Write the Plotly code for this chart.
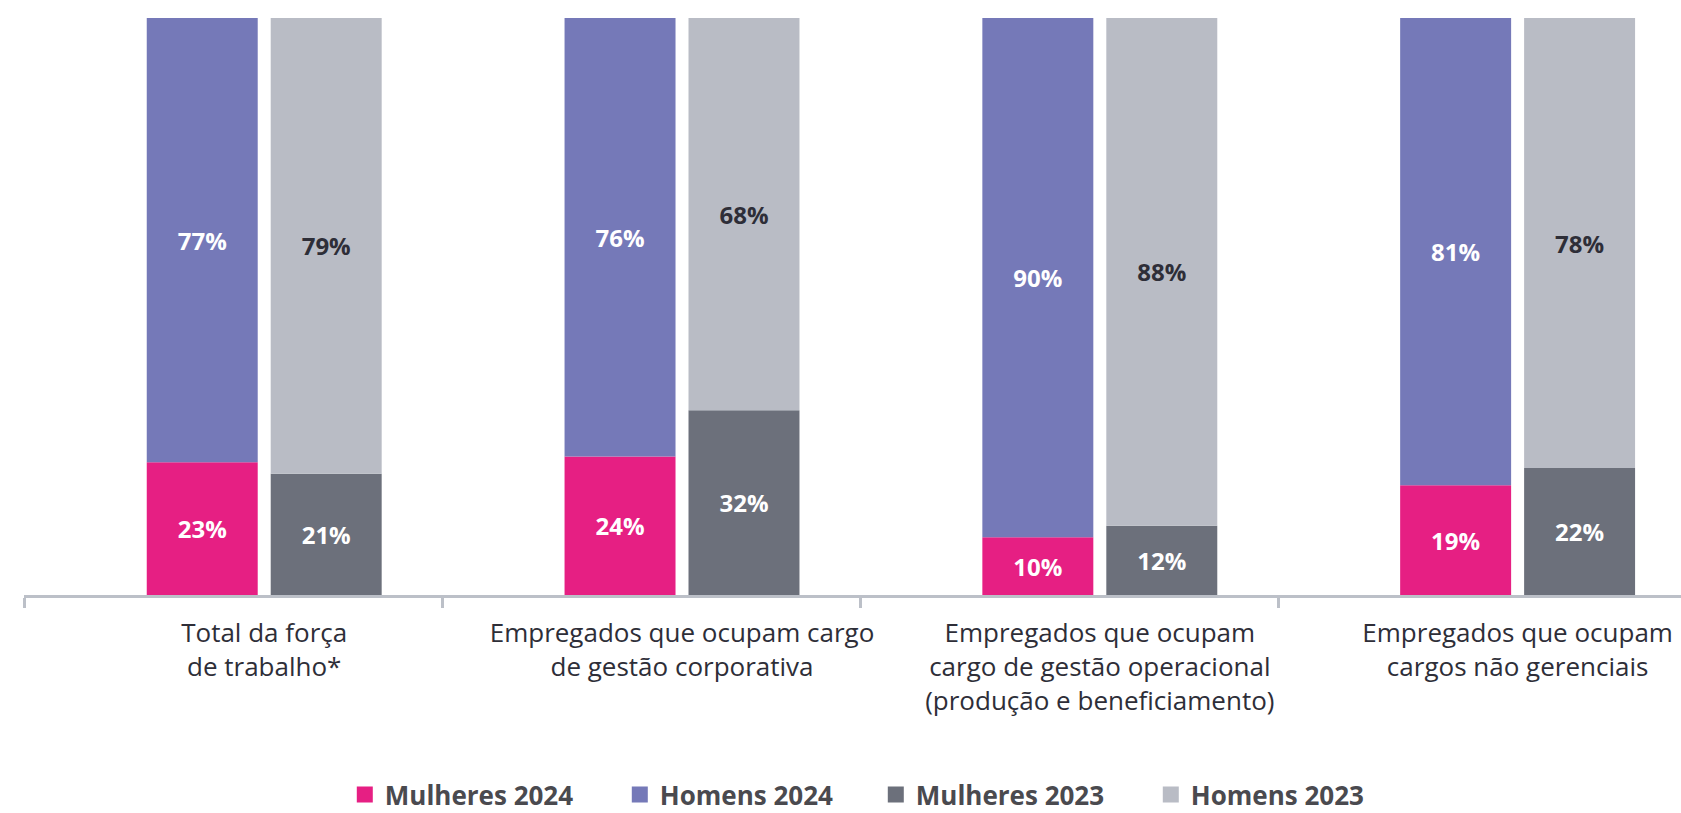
import plotly.graph_objects as go

categories = [
    "Total da força<br>de trabalho*",
    "Empregados que ocupam cargo<br>de gestão corporativa",
    "Empregados que ocupam<br>cargo de gestão operacional<br>(produção e beneficiamento)",
    "Empregados que ocupam<br>cargos não gerenciais",
]
mulheres_2024 = [23, 24, 10, 19]
homens_2024 = [77, 76, 90, 81]
mulheres_2023 = [21, 32, 12, 22]
homens_2023 = [79, 68, 88, 78]

C_PINK = "#E61F83"
C_PURPLE = "#7579B8"
C_DGRAY = "#6C707B"
C_LGRAY = "#B9BCC5"
C_TEXT = "#2E2E38"
C_AXIS = "#BCC0C8"
FONT = "Open Sans"

idx = list(range(len(categories)))
off_2024 = 0.4246
off_2023 = 0.7213
bar_w = 0.2656
x24 = [i + off_2024 for i in idx]
x23 = [i + off_2023 for i in idx]
xlab = [i + (off_2024 + off_2023) / 2 for i in idx]

fig = go.Figure()

def add_bar(x, y, color, txtcolor, name):
    fig.add_trace(go.Bar(
        x=x, y=y, width=bar_w, name=name, marker=dict(color=color, line=dict(width=0)),
        texttemplate="%{y}%", textposition="inside", insidetextanchor="middle",
        textangle=0, constraintext="none",
        textfont=dict(family=FONT, size=24, color=txtcolor, weight="bold"),
        showlegend=False, hoverinfo="skip",
    ))

add_bar(x24, mulheres_2024, C_PINK, "#FFFFFF", "Mulheres 2024")
add_bar(x24, homens_2024, C_PURPLE, "#FFFFFF", "Homens 2024")
add_bar(x23, mulheres_2023, C_DGRAY, "#FFFFFF", "Mulheres 2023")
add_bar(x23, homens_2023, C_LGRAY, C_TEXT, "Homens 2023")

legend_items = [
    ("Mulheres 2024", C_PINK, 230),
    ("Homens 2024", C_PURPLE, 211),
    ("Mulheres 2023", C_DGRAY, 230),
    ("Homens 2023", C_LGRAY, 180),
]
for name, color, lw in legend_items:
    fig.add_trace(go.Scatter(
        x=[None], y=[None], mode="markers", name=name,
        marker=dict(symbol="square", size=18, color=color),
        legendwidth=lw, showlegend=True, hoverinfo="skip",
    ))

fig.update_layout(
    width=1681, height=813,
    barmode="relative",
    paper_bgcolor="white", plot_bgcolor="white",
    margin=dict(l=24, r=0, t=18, b=218, autoexpand=False),
    showlegend=True,
    legend=dict(
        orientation="h", x=0.1936, xanchor="left", y=-0.305, yanchor="top",
        font=dict(family=FONT, size=26, color="#4A4A4F", weight="bold"),
        bgcolor="rgba(0,0,0,0)", itemclick=False, itemdoubleclick=False,
    ),
    xaxis=dict(
        range=[-0.002, 3.964], showgrid=False, zeroline=False,
        showline=True, linecolor=C_AXIS, linewidth=3,
        tickmode="array", tickvals=xlab, ticktext=categories, ticks="",
        tickfont=dict(family=FONT, size=26, color=C_TEXT),
        ticklabelstandoff=13,
        minor=dict(tick0=0, dtick=1, ticks="outside", ticklen=10, tickwidth=3, tickcolor=C_AXIS, showgrid=False),
        fixedrange=True,
    ),
    yaxis=dict(range=[0, 100], visible=False, fixedrange=True),
)

fig.write_html(
    "out.html",
    config={"displayModeBar": False},
    post_script="document.body.style.margin='0px';document.body.style.overflow='hidden';",
)
